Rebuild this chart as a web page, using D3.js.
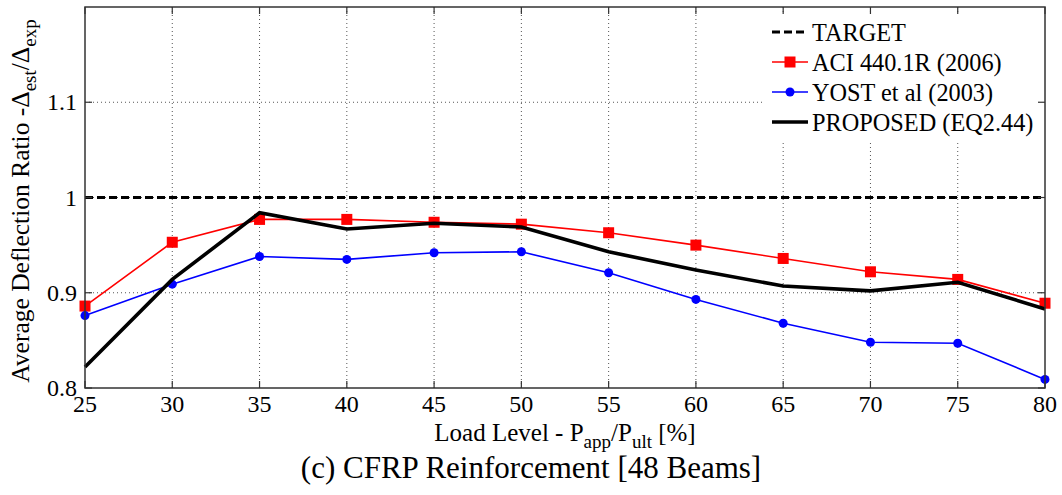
<!DOCTYPE html>
<html>
<head>
<meta charset="utf-8">
<script src="https://cdn.jsdelivr.net/npm/d3@7"></script>
<style>
  html, body { margin: 0; padding: 0; background: #fff; }
  svg { display: block; font-family: "Liberation Serif", "Times New Roman", serif; }
</style>
</head>
<body>
<svg id="chart" width="1062" height="495"></svg>
<script>
// Load levels (% of ultimate load)
const loadLevels = [25, 30, 35, 40, 45, 50, 55, 60, 65, 70, 75, 80];

// Average deflection ratio (estimated / experimental) per method
const target   = [1, 1];
const aci      = [0.886, 0.953, 0.977, 0.977, 0.974, 0.972, 0.963, 0.950, 0.936, 0.922, 0.914, 0.889];
const yost     = [0.876, 0.909, 0.938, 0.935, 0.942, 0.943, 0.921, 0.893, 0.868, 0.848, 0.847, 0.809];
const proposed = [0.822, 0.914, 0.984, 0.967, 0.973, 0.969, 0.943, 0.924, 0.907, 0.902, 0.911, 0.883];

const xTicks = [25, 30, 35, 40, 45, 50, 55, 60, 65, 70, 75, 80];
const yTicks = [0.8, 0.9, 1.0, 1.1];
const yTickLabels = ["0.8", "0.9", "1", "1.1"];

const legendItems = [
  { label: "TARGET", color: "#000", width: 3, dash: "8,4", marker: null },
  { label: "ACI 440.1R (2006)", color: "#ff0000", width: 1.6, dash: null, marker: "square" },
  { label: "YOST et al (2003)", color: "#0000ff", width: 1.6, dash: null, marker: "circle" },
  { label: "PROPOSED (EQ2.44)", color: "#000", width: 3.6, dash: null, marker: null }
];

const svg = d3.select("#chart");
const pLeft = 85, pRight = 1045, pTop = 7, pBottom = 388;

const x = d3.scaleLinear().domain([25, 80]).range([pLeft, pRight]);
const y = d3.scaleLinear().domain([0.8, 1.2]).range([pBottom, pTop]);

// dotted grid
const grid = svg.append("g");
grid.selectAll("line.vx").data(xTicks.slice(1, -1)).join("line")
  .attr("x1", d => x(d)).attr("x2", d => x(d))
  .attr("y1", pTop).attr("y2", pBottom)
  .attr("stroke", "#555").attr("stroke-width", 1).attr("stroke-dasharray", "1,3");
grid.selectAll("line.hy").data(yTicks.slice(1)).join("line")
  .attr("x1", pLeft).attr("x2", pRight)
  .attr("y1", d => y(d)).attr("y2", d => y(d))
  .attr("stroke", "#555").attr("stroke-width", 1).attr("stroke-dasharray", "1,3");

// series
const line = d3.line().x((d, i) => x(loadLevels[i])).y(d => y(d));

svg.append("line")
  .attr("x1", x(25)).attr("x2", x(80))
  .attr("y1", y(target[0])).attr("y2", y(target[1]))
  .attr("stroke", "#000").attr("stroke-width", 3).attr("stroke-dasharray", "8,4");

svg.append("path").datum(aci).attr("d", line)
  .attr("fill", "none").attr("stroke", "#ff0000").attr("stroke-width", 1.6);
svg.append("g").selectAll("rect").data(aci).join("rect")
  .attr("x", (d, i) => x(loadLevels[i]) - 5.5).attr("y", d => y(d) - 5.5)
  .attr("width", 11).attr("height", 11).attr("fill", "#ff0000");

svg.append("path").datum(yost).attr("d", line)
  .attr("fill", "none").attr("stroke", "#0000ff").attr("stroke-width", 1.6);
svg.append("g").selectAll("circle").data(yost).join("circle")
  .attr("cx", (d, i) => x(loadLevels[i])).attr("cy", d => y(d))
  .attr("r", 4.5).attr("fill", "#0000ff");

svg.append("path").datum(proposed).attr("d", line)
  .attr("fill", "none").attr("stroke", "#000").attr("stroke-width", 3.6)
  .attr("stroke-linejoin", "miter");

// legend
const lg = svg.append("g");
lg.append("rect").attr("x", 764).attr("y", 15).attr("width", 279).attr("height", 127).attr("fill", "#fff");
legendItems.forEach((it, i) => {
  const cy = 32 + i * 30;
  lg.append("line").attr("x1", 772).attr("x2", 808).attr("y1", cy).attr("y2", cy)
    .attr("stroke", it.color).attr("stroke-width", it.width)
    .attr("stroke-dasharray", it.dash);
  if (it.marker === "square")
    lg.append("rect").attr("x", 790 - 5.5).attr("y", cy - 5.5).attr("width", 11).attr("height", 11).attr("fill", it.color);
  if (it.marker === "circle")
    lg.append("circle").attr("cx", 790).attr("cy", cy).attr("r", 4.5).attr("fill", it.color);
  lg.append("text").attr("x", 812).attr("y", cy + 8.5).attr("font-size", 24.3).text(it.label);
});

// axes box with inward ticks on all sides
const axisColor = "#333";
const fr = svg.append("g");
fr.append("rect").attr("x", pLeft).attr("y", pTop).attr("width", pRight - pLeft).attr("height", pBottom - pTop)
  .attr("fill", "none").attr("stroke", axisColor).attr("stroke-width", 1.5);
const tl = 7;
fr.selectAll("line.bt").data(xTicks).join("line")
  .attr("x1", d => x(d)).attr("x2", d => x(d)).attr("y1", pBottom).attr("y2", pBottom - tl)
  .attr("stroke", axisColor).attr("stroke-width", 1.2);
fr.selectAll("line.tt").data(xTicks).join("line")
  .attr("x1", d => x(d)).attr("x2", d => x(d)).attr("y1", pTop).attr("y2", pTop + tl)
  .attr("stroke", axisColor).attr("stroke-width", 1.2);
fr.selectAll("line.lt").data(yTicks).join("line")
  .attr("x1", pLeft).attr("x2", pLeft + tl).attr("y1", d => y(d)).attr("y2", d => y(d))
  .attr("stroke", axisColor).attr("stroke-width", 1.2);
fr.selectAll("line.rt").data(yTicks).join("line")
  .attr("x1", pRight).attr("x2", pRight - tl).attr("y1", d => y(d)).attr("y2", d => y(d))
  .attr("stroke", axisColor).attr("stroke-width", 1.2);

// tick labels
svg.append("g").selectAll("text").data(xTicks).join("text")
  .attr("x", d => x(d)).attr("y", 412).attr("text-anchor", "middle")
  .attr("font-size", 24).text(d => d);
svg.append("g").selectAll("text").data(yTicks).join("text")
  .attr("x", 77).attr("y", d => y(d) + 8).attr("text-anchor", "end")
  .attr("font-size", 24).text((d, i) => yTickLabels[i]);

// x-axis label
const xl = svg.append("text").attr("x", 565).attr("y", 441).attr("text-anchor", "middle").attr("font-size", 25);
xl.append("tspan").text("Load Level - P");
xl.append("tspan").attr("font-size", 19).attr("dy", 7).text("app");
xl.append("tspan").attr("dy", -7).text("/P");
xl.append("tspan").attr("font-size", 19).attr("dy", 7).text("ult");
xl.append("tspan").attr("dy", -7).text(" [%]");

// y-axis label
const yl = svg.append("text").attr("transform", "translate(29,201) rotate(-90)")
  .attr("text-anchor", "middle").attr("font-size", 25.5);
yl.append("tspan").text("Average Deflection Ratio -Δ");
yl.append("tspan").attr("font-size", 19).attr("dy", 7).text("est");
yl.append("tspan").attr("dy", -7).text("/Δ");
yl.append("tspan").attr("font-size", 19).attr("dy", 7).text("exp");

// caption
svg.append("text").attr("x", 531).attr("y", 478).attr("text-anchor", "middle")
  .attr("font-size", 31).text("(c) CFRP Reinforcement [48 Beams]");
</script>
</body>
</html>
